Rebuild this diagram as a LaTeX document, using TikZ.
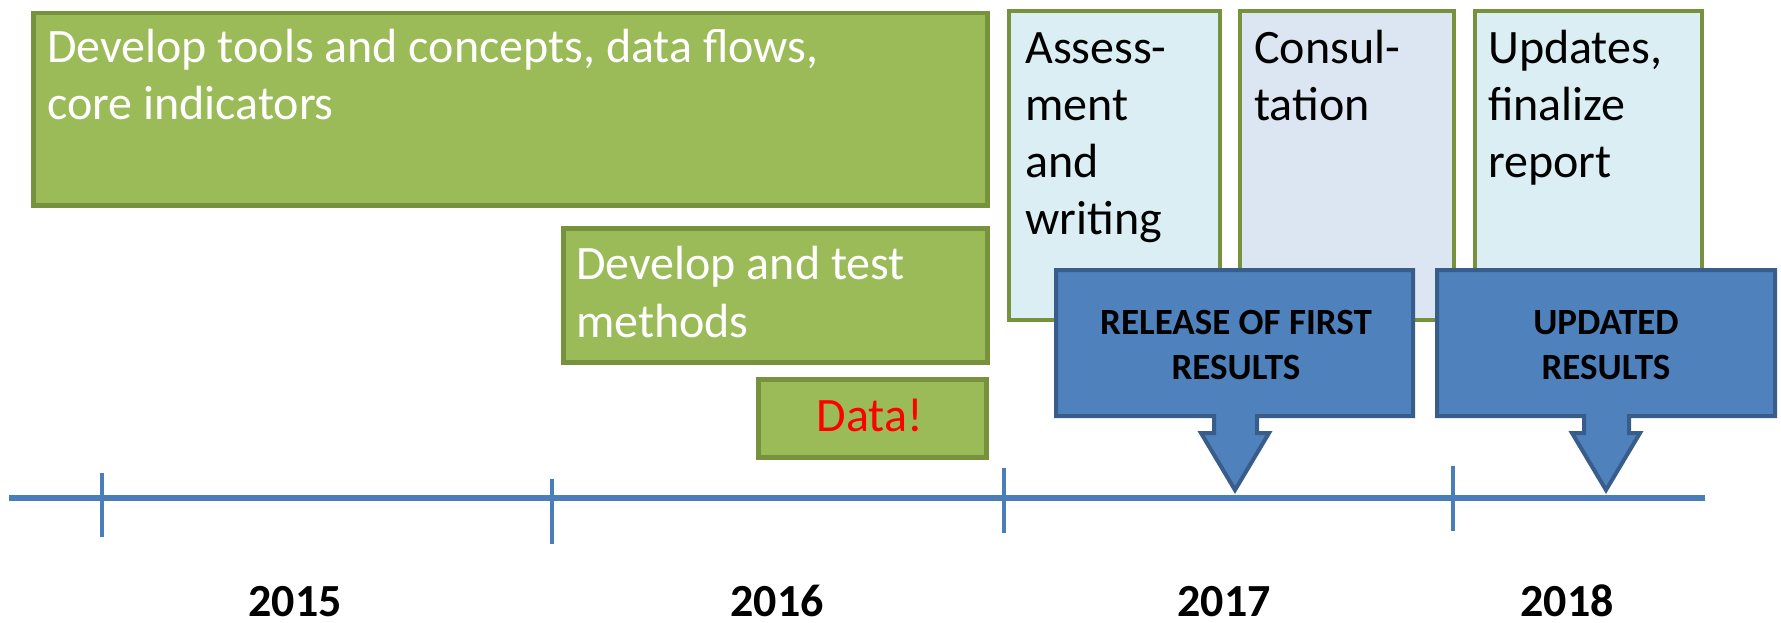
\documentclass[tikz,border=0pt]{standalone}
\usepackage{fontspec}
\setmainfont{Carlito}
\definecolor{greenF}{HTML}{9BBB59}
\definecolor{greenB}{HTML}{76923C}
\definecolor{aquaF}{HTML}{DAEEF3}
\definecolor{paleF}{HTML}{DCE6F2}
\definecolor{blueF}{HTML}{4F81BD}
\definecolor{blueB}{HTML}{385D8A}
\definecolor{axisC}{HTML}{4A7EBB}
\begin{document}
\begin{tikzpicture}[x=1pt,y=-1pt,
  greenbox/.style={draw=greenB, fill=greenF, line width=4.5pt, inner sep=0pt, anchor=north west},
  lightbox/.style={draw=greenB, line width=4pt, inner sep=0pt, anchor=north west},
  callout/.style={draw=blueB, fill=blueF, line width=4pt, line join=miter},
  wtxt/.style={inner sep=0pt, anchor=base west, text=white, font=\fontsize{48}{57}\selectfont},
  btxt/.style={inner sep=0pt, anchor=base west, text=black, font=\fontsize{48}{57}\selectfont},
  ctxt/.style={inner sep=0pt, anchor=base, text=black, font=\bfseries\fontsize{37}{45}\selectfont},
  ytxt/.style={inner sep=0pt, anchor=base, text=black, font=\bfseries\fontsize{46}{56}\selectfont},
  tick/.style={draw=axisC, line width=4.5pt}]
\useasboundingbox (0,0) rectangle (1781,623);
% green boxes
\node[greenbox, minimum width=954pt, minimum height=192pt] (tools) at (31,11) {};
\node[greenbox, minimum width=424pt, minimum height=134pt] (methods) at (561,226) {};
\node[greenbox, minimum width=228pt, minimum height=78pt] (data) at (756,377) {};
\node[wtxt] (t1) at (47,63) {Develop tools and concepts, data flows,};
\node[wtxt] (t2) at (47,120) {core indicators};
\node[wtxt] (m1) at (576,279) {Develop and test};
\node[wtxt] (m2) at (576,337) {methods};
\node[inner sep=0pt, anchor=base, text=red, font=\fontsize{48}{57}\selectfont] (d1) at (870,431) {Data!};
% light boxes
\node[lightbox, fill=aquaF, minimum width=211pt, minimum height=309pt] (assess) at (1007,9) {};
\node[lightbox, fill=paleF, minimum width=214pt, minimum height=309pt] (consult) at (1238,9) {};
\node[lightbox, fill=aquaF, minimum width=227pt, minimum height=309pt] (update) at (1473,9) {};
\node[btxt] (a1) at (1025,64) {Assess-};
\node[btxt] (a2) at (1025,121) {ment};
\node[btxt] (a3) at (1025,178) {and};
\node[btxt] (a4) at (1025,234) {writing};
\node[btxt] (c1) at (1254,64) {Consul-};
\node[btxt] (c2) at (1254,121) {tation};
\node[btxt] (u1) at (1488,64) {Updates,};
\node[btxt] (u2) at (1488,121) {finalize};
\node[btxt] (u3) at (1488,178) {report};
% axis
\coordinate (ax0) at (9,498);
\coordinate (ax1) at (1705,498);
\draw[draw=axisC, line width=6pt] (ax0) -- (ax1);
\draw[tick] (102,473) -- (102,537);
\draw[tick] (552,479) -- (552,544);
\draw[tick] (1004,468) -- (1004,533);
\draw[tick] (1453,466) -- (1453,531);
% callouts
\draw[callout] (1056,270) -- (1413,270) -- (1413,416) -- (1257,416) -- (1257,433)
  -- (1269,433) -- (1235,490) -- (1201,433) -- (1214,433) -- (1214,416) -- (1056,416) -- cycle;
\draw[callout] (1437,270) -- (1775,270) -- (1775,416) -- (1629,416) -- (1629,433)
  -- (1640,433) -- (1606,490) -- (1572,433) -- (1584,433) -- (1584,416) -- (1437,416) -- cycle;
\node[ctxt] (r1) at (1236,334) {RELEASE OF FIRST};
\node[ctxt] (r2) at (1236,379) {RESULTS};
\node[ctxt] (p1) at (1606,334) {UPDATED};
\node[ctxt] (p2) at (1606,379) {RESULTS};
% years
\node[ytxt] (y15) at (295,616) {2015};
\node[ytxt] (y16) at (777,616) {2016};
\node[ytxt] (y17) at (1224,616) {2017};
\node[ytxt] (y18) at (1567,616) {2018};
\end{tikzpicture}
\end{document}
